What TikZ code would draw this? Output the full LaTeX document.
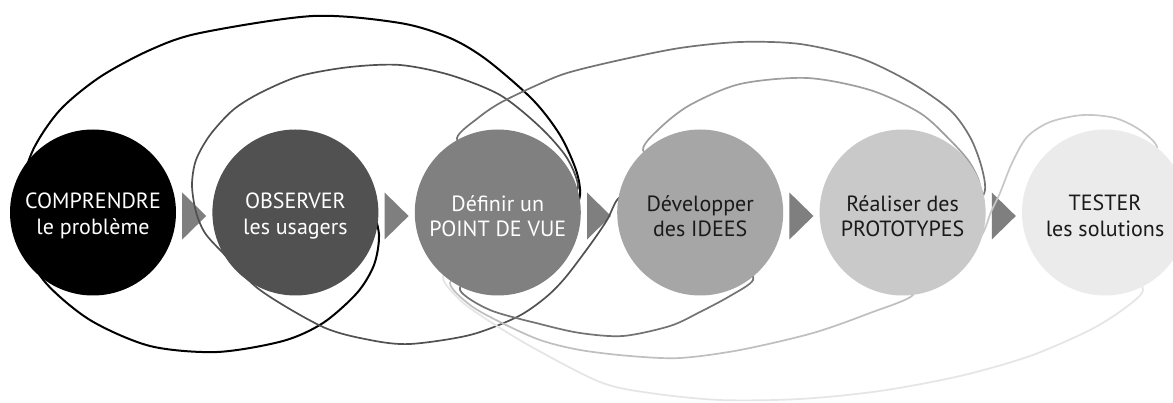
\documentclass[tikz,border=0pt]{standalone}
\usepackage{fontspec}
\setmainfont{PT Sans}
\usepackage{tikz}
\usetikzlibrary{calc}
\definecolor{stA}{HTML}{000000}
\definecolor{stB}{HTML}{515151}
\definecolor{stC}{HTML}{808080}
\definecolor{stD}{HTML}{A6A6A6}
\definecolor{stE}{HTML}{C9C9C9}
\definecolor{stF}{HTML}{EBEBEB}
\definecolor{arrgray}{HTML}{7F7F7F}
\definecolor{dark}{HTML}{1A1A1A}
\tikzset{
  stage/.style={circle, minimum size=166pt, inner sep=0pt},
  lab/.style={align=center, font=\fontsize{22}{25.5}\selectfont},
  arr/.style={fill=arrgray},
  loop/.style={line width=1.7pt, line cap=round, line join=round},
  loopa/.style={loop, draw=black, line width=2pt},
  loopb/.style={loop, draw=stB},
  loopc/.style={loop, draw=black!55},
  loopd/.style={loop, draw=black!38},
  loopdb/.style={loop, draw=black!25},
  loope/.style={loop, draw=black!22},
  loopeb/.style={loop, draw=black!10},
}

\begin{document}
\begin{tikzpicture}[x=1pt,y=-1pt]
  \useasboundingbox (0,0) rectangle (1173,403);
  \fill[white] (0,0) rectangle (1173,403);

  \foreach \i in {1,...,6}
    \coordinate (c\i) at ({93+202.4*(\i-1)},212.5);

  % arrows between the stages
  \foreach \i [count=\j from 2] in {1,...,5}
    \fill[arr] ($(c\i)!0.5!(c\j)+(-12,-20)$) -- ++(24,23.5) -- ++(-24,23.5) -- cycle;

  % iteration loops, ends hidden under the stages
  \draw[loopa] plot[smooth] coordinates {(372,205) (379,235) (374,265) (357,293)
    (323,323) (283,341) (217,352) (150,346) (90,320) (45,282) (22,240) (20,195)
    (33,150) (60,110) (100,77) (150,50) (200,33) (313,16) (400,23) (450,38)
    (487,60) (533,100) (560,135) (576,170) (580,195) (572,220)};
  \draw[loopb] plot[smooth] coordinates {(560,200) (578,188) (567,158) (540,127)
    (500,95) (450,75) (400,65) (350,67) (300,76) (260,93) (233,110) (210,135)
    (196,160) (192,185) (196,212) (205,233) (223,253) (260,290) (323,327)
    (370,340) (410,344) (470,335) (517,317) (545,298) (565,278) (590,245)
    (607,220) (617,200) (630,190)};
  \draw[loopc] plot[smooth] coordinates {(470,160) (457,138) (478,118) (500,103)
    (535,86) (567,73) (620,60) (680,48) (740,42) (800,44) (860,58) (910,82)
    (950,110) (970,137) (981,165) (985,190) (975,210)};
  \draw[loopc] plot[smooth] coordinates {(475,270) (460,290) (490,310) (540,324)
    (580,333) (623,336) (670,326) (700,312) (730,296) (753,280) (745,262)};
  \draw[loopd] plot[smooth] coordinates {(665,170) (643,150) (660,128) (690,105)
    (740,84) (807,78) (870,90) (920,113) (950,140) (970,163) (980,187) (970,210)};
  \draw[loopdb] plot[smooth] coordinates {(470,262) (450,283) (470,305) (500,322)
    (540,340) (580,350) (630,356) (680,358) (740,350) (813,333) (870,313)
    (913,295) (905,275)};
  \draw[loope] plot[smooth] coordinates {(968,255) (983,233) (991,212) (1000,193)
    (1012,163) (1027,137) (1050,122) (1083,115) (1115,118) (1140,130)
    (1157,147) (1150,170)};
  \draw[loopeb] plot[smooth] coordinates {(465,255) (443,277) (460,300) (483,317)
    (530,346) (600,382) (650,393) (720,400) (800,399) (880,391) (960,376)
    (1030,356) (1090,330) (1125,308) (1143,290) (1130,270)};

  % stages
  \node[stage, fill=stA] (s1) at (c1) {};
  \node[stage, fill=stB] (s2) at (c2) {};
  \node[stage, fill=stC] (s3) at (c3) {};
  \node[stage, fill=stD] (s4) at (c4) {};
  \node[stage, fill=stE] (s5) at (c5) {};
  \node[stage, fill=stF] (s6) at (c6) {};

  \node[lab, text=white] (t1) at ($(s1)+(0,3.5)$) {COMPRENDRE\\le problème};
  \node[lab, text=white] (t2) at ($(s2)+(0,3.5)$) {OBSERVER\\les usagers};
  \node[lab, text=white] (t3) at ($(s3)+(0,3.5)$) {Définir un\\POINT DE VUE};
  \node[lab, text=dark] (t4) at ($(s4)+(0,3.5)$) {Développer\\des IDEES};
  \node[lab, text=dark] (t5) at ($(s5)+(0,3.5)$) {Réaliser des\\PROTOTYPES};
  \node[lab, text=dark] (t6) at ($(s6)+(0,3.5)$) {TESTER\\les solutions};
\end{tikzpicture}
\end{document}
